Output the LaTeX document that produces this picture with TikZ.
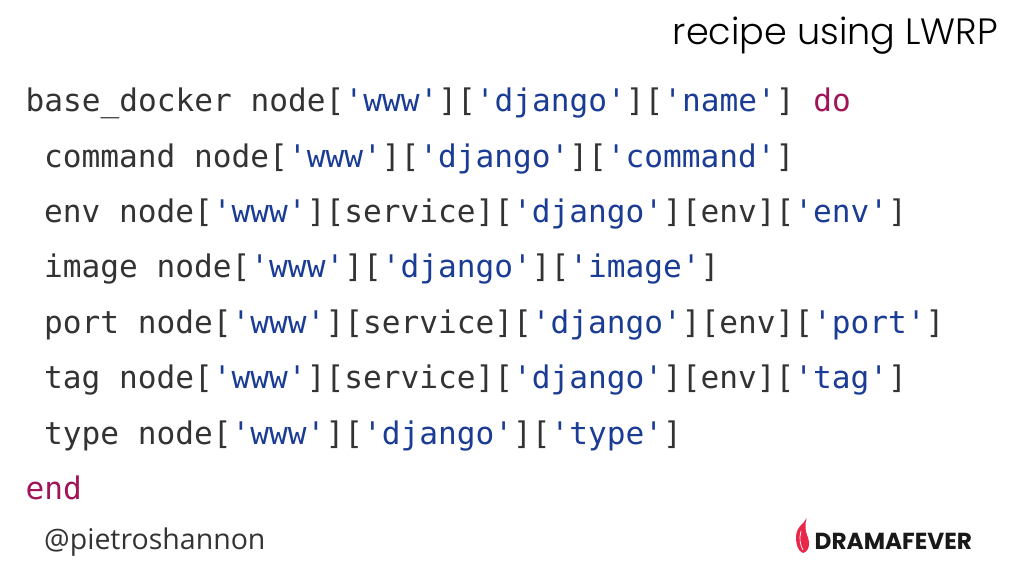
\documentclass[tikz,border=0pt]{standalone}
\usepackage{fontspec}
\setmainfont{Open Sans}
\setmonofont{DejaVu Sans Mono}
\newfontfamily\titlefont{Poppins Light}
\newfontfamily\logofont{Poppins}[Scale=1.0]
\definecolor{codegray}{HTML}{333333}
\definecolor{codeblue}{HTML}{1B3C94}
\definecolor{codered}{HTML}{A0145A}
\definecolor{flamered}{HTML}{E8274B}
\newcommand{\qs}[1]{\textcolor{codeblue}{'#1'}}
\newcommand{\kw}[1]{\textcolor{codered}{#1}}
\tikzset{
    codeline/.style={anchor=base west,inner sep=0pt,text=codegray,font=\fontsize{31.15}{31.15}\ttfamily},
}
\begin{document}
\begin{tikzpicture}[x=1pt,y=-1pt]
    \useasboundingbox (0,0) rectangle (1024,576);
    \node[anchor=base east,inner sep=0pt,text=black,font=\fontsize{36.6}{36.6}\titlefont] (title) at (998,44) {recipe using LWRP};
    \node[codeline] (l1) at (25.5,111) {base\_docker node[\qs{www}][\qs{django}][\qs{name}] \kw{do}};
    \node[codeline] (l2) at (44,167) {command node[\qs{www}][\qs{django}][\qs{command}]};
    \node[codeline] (l3) at (44,222) {env node[\qs{www}][service][\qs{django}][env][\qs{env}]};
    \node[codeline] (l4) at (44,277) {image node[\qs{www}][\qs{django}][\qs{image}]};
    \node[codeline] (l5) at (44,333) {port node[\qs{www}][service][\qs{django}][env][\qs{port}]};
    \node[codeline] (l6) at (44,388) {tag node[\qs{www}][service][\qs{django}][env][\qs{tag}]};
    \node[codeline] (l7) at (44,444) {type node[\qs{www}][\qs{django}][\qs{type}]};
    \node[codeline] (l8) at (25.5,499) {\kw{end}};
    \node[anchor=base west,inner sep=0pt,text=codegray,font=\fontsize{28.5}{28.5}\selectfont] (handle) at (44,549) {@pietroshannon};
    % logo
    \fill[flamered] (806.5,518) .. controls (804,522) and (803.5,523) .. (802,524)
        .. controls (798,528) and (796,532) .. (796,537)
        .. controls (796,545) and (798,551) .. (803,553)
        .. controls (807.5,552) and (809.5,547) .. (809,542)
        .. controls (808.5,537) and (805.5,533) .. (805.5,528)
        .. controls (805.5,524) and (805.5,521) .. (806.5,518) -- cycle;
    \draw[white,line width=.7pt] (801,531) .. controls (799,538) and (800,545) .. (803,550);
    \node[anchor=base west,inner sep=0pt,text=black!90,font=\fontsize{23.2}{23.2}\logofont\bfseries] (logo) at (814.5,549) {DRAMAFEVER};
\end{tikzpicture}
\end{document}
